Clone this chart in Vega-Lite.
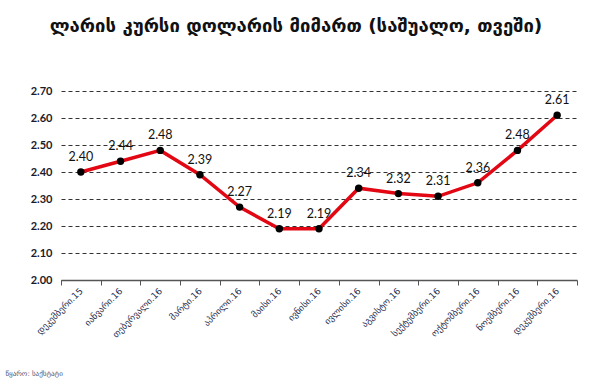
{
  "$schema": "https://vega.github.io/schema/vega-lite/v6.json",
  "width": 516,
  "height": 189,
  "autosize": "none",
  "padding": {"left": 61, "top": 91, "right": 15, "bottom": 105},
  "background": "white",
  "title": {
    "text": "ლარის კურსი დოლარის მიმართ (საშუალო, თვეში)",
    "font": "DejaVu Sans",
    "fontSize": 18.5,
    "fontWeight": "bold",
    "color": "#111111",
    "anchor": "middle",
    "dx": -23,
    "offset": 50
  },
  "config": {"view": {"stroke": null}},
  "data": {
    "values": [
      {"month": "დეკემბერი.15", "rate": 2.40},
      {"month": "იანვარი.16", "rate": 2.44},
      {"month": "თებერვალი.16", "rate": 2.48},
      {"month": "მარტი.16", "rate": 2.39},
      {"month": "აპრილი.16", "rate": 2.27},
      {"month": "მაისი.16", "rate": 2.19},
      {"month": "ივნისი.16", "rate": 2.19},
      {"month": "ივლისი.16", "rate": 2.34},
      {"month": "აგვისტო.16", "rate": 2.32},
      {"month": "სექტემბერი.16", "rate": 2.31},
      {"month": "ოქტომბერი.16", "rate": 2.36},
      {"month": "ნოემბერი.16", "rate": 2.48},
      {"month": "დეკემბერი.16", "rate": 2.61}
    ]
  },
  "encoding": {
    "x": {
      "field": "month",
      "type": "nominal",
      "sort": null,
      "scale": {"type": "band", "paddingInner": 0, "paddingOuter": 0},
      "axis": {
        "title": "წყარო: საქსტატი",
        "titleFont": "DejaVu Sans",
        "titleFontSize": 7,
        "titleFontWeight": "normal",
        "titleColor": "#4a5070",
        "titleAnchor": "start",
        "titleAlign": "left",
        "titleBaseline": "middle",
        "titleX": -56,
        "titleY": 93,
        "labelAngle": -45,
        "labelAlign": "right",
        "labelBaseline": "middle",
        "labelFont": "DejaVu Sans",
        "labelFontSize": 9,
        "labelColor": "#2a3050",
        "labelPadding": 4,
        "labelOverlap": false,
        "tickBand": "extent",
        "tickSize": 5,
        "tickColor": "#555555",
        "domainColor": "#555555",
        "domainWidth": 1.5,
        "grid": false
      }
    },
    "y": {
      "field": "rate",
      "type": "quantitative",
      "scale": {"domain": [2.0, 2.7], "nice": false, "zero": false},
      "axis": {
        "title": null,
        "values": [2.0, 2.1, 2.2, 2.3, 2.4, 2.5, 2.6, 2.7],
        "format": ".2f",
        "labelFont": "Lato",
        "labelFontSize": 11,
        "labelFontWeight": "bold",
        "labelColor": "#1a1a2a",
        "labelPadding": 9,
        "domain": false,
        "ticks": false,
        "grid": true,
        "gridDash": [4, 3],
        "gridColor": "#333333",
        "gridWidth": 1
      }
    }
  },
  "layer": [
    {
      "mark": {"type": "line", "color": "#e30613", "strokeWidth": 3.5}
    },
    {
      "mark": {"type": "point", "filled": true, "color": "#000000", "size": 55, "opacity": 1}
    },
    {
      "mark": {"type": "text", "dy": -15, "font": "Lato", "fontSize": 12.5, "color": "#111111"},
      "encoding": {"text": {"field": "rate", "type": "quantitative", "format": ".2f"}}
    }
  ]
}
